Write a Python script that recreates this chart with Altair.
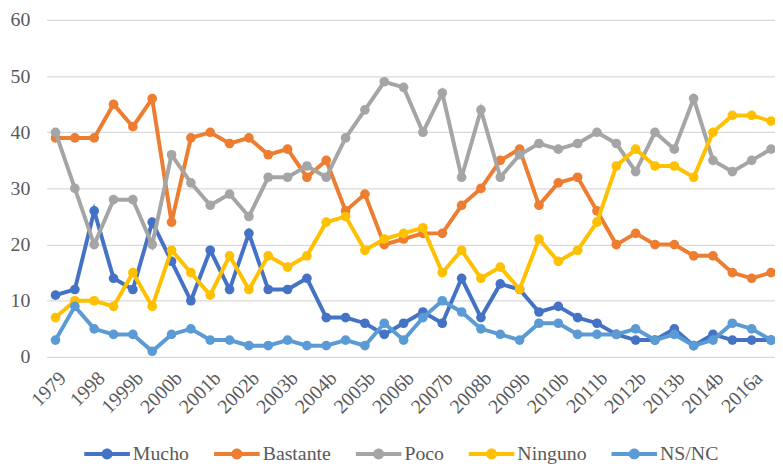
import altair as alt
import pandas as pd

categories = ["1979", "1996", "1998", "1999a", "1999b", "2000a", "2000b", "2001a",
              "2001b", "2002a", "2002b", "2003a", "2003b", "2004a", "2004b", "2005a",
              "2005b", "2006a", "2006b", "2007a", "2007b", "2008a", "2008b", "2009a",
              "2009b", "2010a", "2010b", "2011a", "2011b", "2012a", "2012b", "2013a",
              "2013b", "2014a", "2014b", "2015", "2016a", "2016b"]
tick_labels = categories[::2]

series_names = ["Mucho", "Bastante", "Poco", "Ninguno", "NS/NC"]
series_colors = ["#4472C4", "#ED7D31", "#A5A5A5", "#FFC000", "#5B9BD5"]

mucho = [11, 12, 26, 14, 12, 24, 17, 10, 19, 12, 22, 12, 12, 14, 7, 7, 6, 4, 6, 8,
         6, 14, 7, 13, 12, 8, 9, 7, 6, 4, 3, 3, 5, 2, 4, 3, 3, 3]
bastante = [39, 39, 39, 45, 41, 46, 24, 39, 40, 38, 39, 36, 37, 32, 35, 26, 29, 20, 21, 22,
            22, 27, 30, 35, 37, 27, 31, 32, 26, 20, 22, 20, 20, 18, 18, 15, 14, 15]
poco = [40, 30, 20, 28, 28, 20, 36, 31, 27, 29, 25, 32, 32, 34, 32, 39, 44, 49, 48, 40,
        47, 32, 44, 32, 36, 38, 37, 38, 40, 38, 33, 40, 37, 46, 35, 33, 35, 37]
ninguno = [7, 10, 10, 9, 15, 9, 19, 15, 11, 18, 12, 18, 16, 18, 24, 25, 19, 21, 22, 23,
           15, 19, 14, 16, 12, 21, 17, 19, 24, 34, 37, 34, 34, 32, 40, 43, 43, 42]
nsnc = [3, 9, 5, 4, 4, 1, 4, 5, 3, 3, 2, 2, 3, 2, 2, 3, 2, 6, 3, 7,
        10, 8, 5, 4, 3, 6, 6, 4, 4, 4, 5, 3, 4, 2, 3, 6, 5, 3]

series_values = [mucho, bastante, poco, ninguno, nsnc]

rows = []
for name, vals in zip(series_names, series_values):
    for cat, v in zip(categories, vals):
        rows.append({"cat": cat, "serie": name, "valor": v})
df = pd.DataFrame(rows)

FONT = "'Times New Roman', 'Liberation Serif', 'DejaVu Serif', serif"
TXT = "#595959"

legend_path = ("M-1,-0.087L1,-0.087L1,0.087L-1,0.087Z "
               "M0.24,0A0.24,0.24,0,1,1,-0.24,0A0.24,0.24,0,1,1,0.24,0Z")

x_enc = alt.X("cat:N", sort=categories, title=None,
              scale=alt.Scale(type="point", padding=0.3325, align=0.69),
              axis=alt.Axis(values=tick_labels, labelAngle=-45, labelAlign="right",
                            labelBaseline="top", labelPadding=11, ticks=False,
                            domain=False, grid=False, labelFont=FONT,
                            labelFontSize=20, labelColor=TXT, labelOverlap=False))
y_enc = alt.Y("valor:Q", title=None,
              scale=alt.Scale(domain=[0, 60], nice=False),
              axis=alt.Axis(values=[0, 10, 20, 30, 40, 50, 60], ticks=False, domain=False,
                            grid=True, gridColor="#d9d9d9", gridWidth=1.3,
                            labelFont=FONT, labelFontSize=20, labelColor=TXT,
                            labelPadding=17))
color_enc = alt.Color("serie:N", sort=series_names,
                      scale=alt.Scale(domain=series_names, range=series_colors),
                      legend=alt.Legend(title=None, orient="none", direction="horizontal",
                                        columns=5, legendX=38, legendY=415,
                                        symbolType=legend_path, symbolSize=2116,
                                        symbolStrokeWidth=0, symbolOpacity=1,
                                        labelFont=FONT, labelFontSize=20,
                                        labelColor=TXT, labelOffset=3,
                                        columnPadding=25, padding=0))

base = alt.Chart(df)
layers = []
for name in series_names:
    sub = base.transform_filter(alt.datum.serie == name)
    layers.append(sub.mark_line(strokeWidth=4).encode(x=x_enc, y=y_enc, color=color_enc))
    layers.append(sub.mark_circle(size=95, opacity=1).encode(x=x_enc, y=y_enc, color=color_enc))

chart = alt.layer(*layers).properties(
    width=735, height=340,
    autosize=alt.AutoSizeParams(type="none"),
    padding={"left": 39, "top": 10, "right": 0, "bottom": 109},
    background="white",
).configure_view(stroke=None)

chart.save("out.html", embed_options={"renderer": "svg", "actions": False})
